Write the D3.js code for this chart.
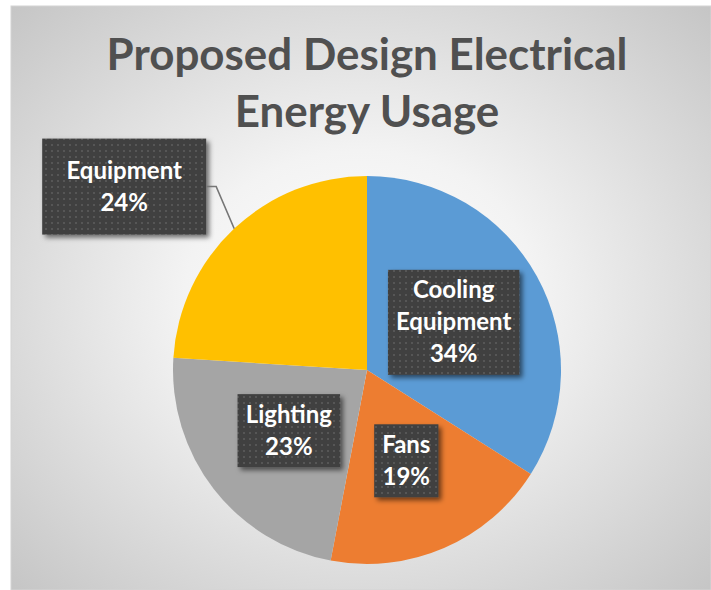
<!DOCTYPE html>
<html>
<head>
<meta charset="utf-8">
<script src="https://cdn.jsdelivr.net/npm/d3@7"></script>
<style>
  html, body { margin: 0; padding: 0; background: #ffffff; }
  svg { display: block; }
</style>
</head>
<body>
<svg id="chart" width="711" height="590"></svg>
<script>
// Chart data
const categories = ["Cooling Equipment", "Fans", "Lighting", "Equipment"];
const shares = [34, 19, 23, 24];
const labelLines = [["Cooling", "Equipment"], ["Fans"], ["Lighting"], ["Equipment"]];
const sliceColors = ["#5b9bd5", "#ed7d31", "#a5a5a5", "#ffc000"];
const titleLines = ["Proposed Design Electrical", "Energy Usage"];

// Layout
const W = 711, H = 590;
const frame = { x: 11, y: 6, w: 700, h: 584 };
const cx = 367, cy = 370, R = 194;
const FONT = "Lato, 'Open Sans', 'DejaVu Sans', sans-serif";
const titleWidth = 521;             // target width of the first title line
const labelFont = 24;
const lineGap = 32;
const insideRadius = 0.51;          // label centres for in-slice labels (fraction of R)
const calloutIndex = 3;             // slice whose label sits outside with a leader line
const calloutOffset = [-110, -42];  // box centre relative to the slice's outer edge point
const calloutSize = [164, 96];

const svg = d3.select("#chart");
const defs = svg.append("defs");

// Background: soft radial gradient, white in the middle fading to grey
const bg = defs.append("radialGradient").attr("id", "bgGrad")
  .attr("cx", "50%").attr("cy", "50%").attr("r", "72%");
bg.append("stop").attr("offset", "0%").attr("stop-color", "#ffffff");
bg.append("stop").attr("offset", "35%").attr("stop-color", "#f3f3f3");
bg.append("stop").attr("offset", "100%").attr("stop-color", "#c4c4c4");

// Dotted fill used by the data label boxes
const pat = defs.append("pattern").attr("id", "dots")
  .attr("patternUnits", "userSpaceOnUse").attr("width", 6).attr("height", 6);
pat.append("rect").attr("width", 6).attr("height", 6).attr("fill", "#404040");
pat.append("rect").attr("x", 2).attr("y", 2).attr("width", 2).attr("height", 2).attr("fill", "#575757");

// Soft drop shadow under the label boxes
const sh = defs.append("filter").attr("id", "shadow")
  .attr("x", "-20%").attr("y", "-20%").attr("width", "150%").attr("height", "150%");
sh.append("feDropShadow").attr("dx", 3).attr("dy", 3).attr("stdDeviation", 2.5)
  .attr("flood-color", "#000").attr("flood-opacity", 0.55);

svg.append("rect")
  .attr("x", frame.x).attr("y", frame.y).attr("width", frame.w).attr("height", frame.h)
  .attr("fill", "url(#bgGrad)").attr("stroke", "#d4d4d4").attr("stroke-width", 1);

// Title, sized so the first line spans the intended width
const title = svg.append("text")
  .attr("x", cx).attr("text-anchor", "middle")
  .attr("font-family", FONT).attr("font-weight", 700).attr("font-size", 36)
  .attr("fill", "#505050");
title.selectAll("tspan").data(titleLines).join("tspan")
  .attr("x", cx).attr("y", (d, i) => 70 + i * 57).text(d => d);
const firstW = title.select("tspan").node().getComputedTextLength();
title.attr("font-size", 36 * titleWidth / firstW);

// Pie
const pie = d3.pie().sort(null).value(d => d)(shares);
const arc = d3.arc().innerRadius(0).outerRadius(R);
const color = d3.scaleOrdinal().domain(categories).range(sliceColors);
const total = d3.sum(shares);

const g = svg.append("g").attr("transform", `translate(${cx},${cy})`);
g.selectAll("path.slice").data(pie).join("path")
  .attr("class", "slice")
  .attr("d", arc)
  .attr("fill", (d, i) => color(categories[i]));

// Data labels
const pct = v => Math.round(v / total * 100) + "%";
const midPoint = (d, r) => {
  const a = (d.startAngle + d.endAngle) / 2;
  return [Math.sin(a) * r, -Math.cos(a) * r];
};

const labels = g.append("g");
pie.forEach((d, i) => {
  const lines = labelLines[i].concat([pct(d.value)]);
  const lg = labels.append("g");
  const txt = lg.append("text")
    .attr("text-anchor", "middle")
    .attr("font-family", FONT).attr("font-weight", 700).attr("font-size", labelFont)
    .attr("fill", "#ffffff");
  let center, bw, bh;
  if (i === calloutIndex) {
    const edge = midPoint(d, R);
    center = [edge[0] + calloutOffset[0], edge[1] + calloutOffset[1]];
    [bw, bh] = calloutSize;
    const right = center[0] + bw / 2;
    lg.append("polyline")
      .attr("points", [[right, center[1]], [right + 10, center[1]], edge].map(p => p.join(",")).join(" "))
      .attr("fill", "none").attr("stroke", "#767676").attr("stroke-width", 1.5);
  } else {
    center = midPoint(d, R * insideRadius);
  }
  txt.selectAll("tspan").data(lines).join("tspan")
    .attr("x", center[0])
    .attr("y", (s, k) => center[1] + (k - (lines.length - 1) / 2) * lineGap + 8)
    .text(s => s);
  if (i !== calloutIndex) {
    const tw = txt.node().getBBox().width;
    bw = tw + 16;
    bh = lines.length * lineGap + 9;
  }
  lg.insert("rect", "text")
    .attr("x", center[0] - bw / 2).attr("y", center[1] - bh / 2)
    .attr("width", bw).attr("height", bh)
    .attr("fill", "url(#dots)").attr("filter", "url(#shadow)");
});
</script>
</body>
</html>
